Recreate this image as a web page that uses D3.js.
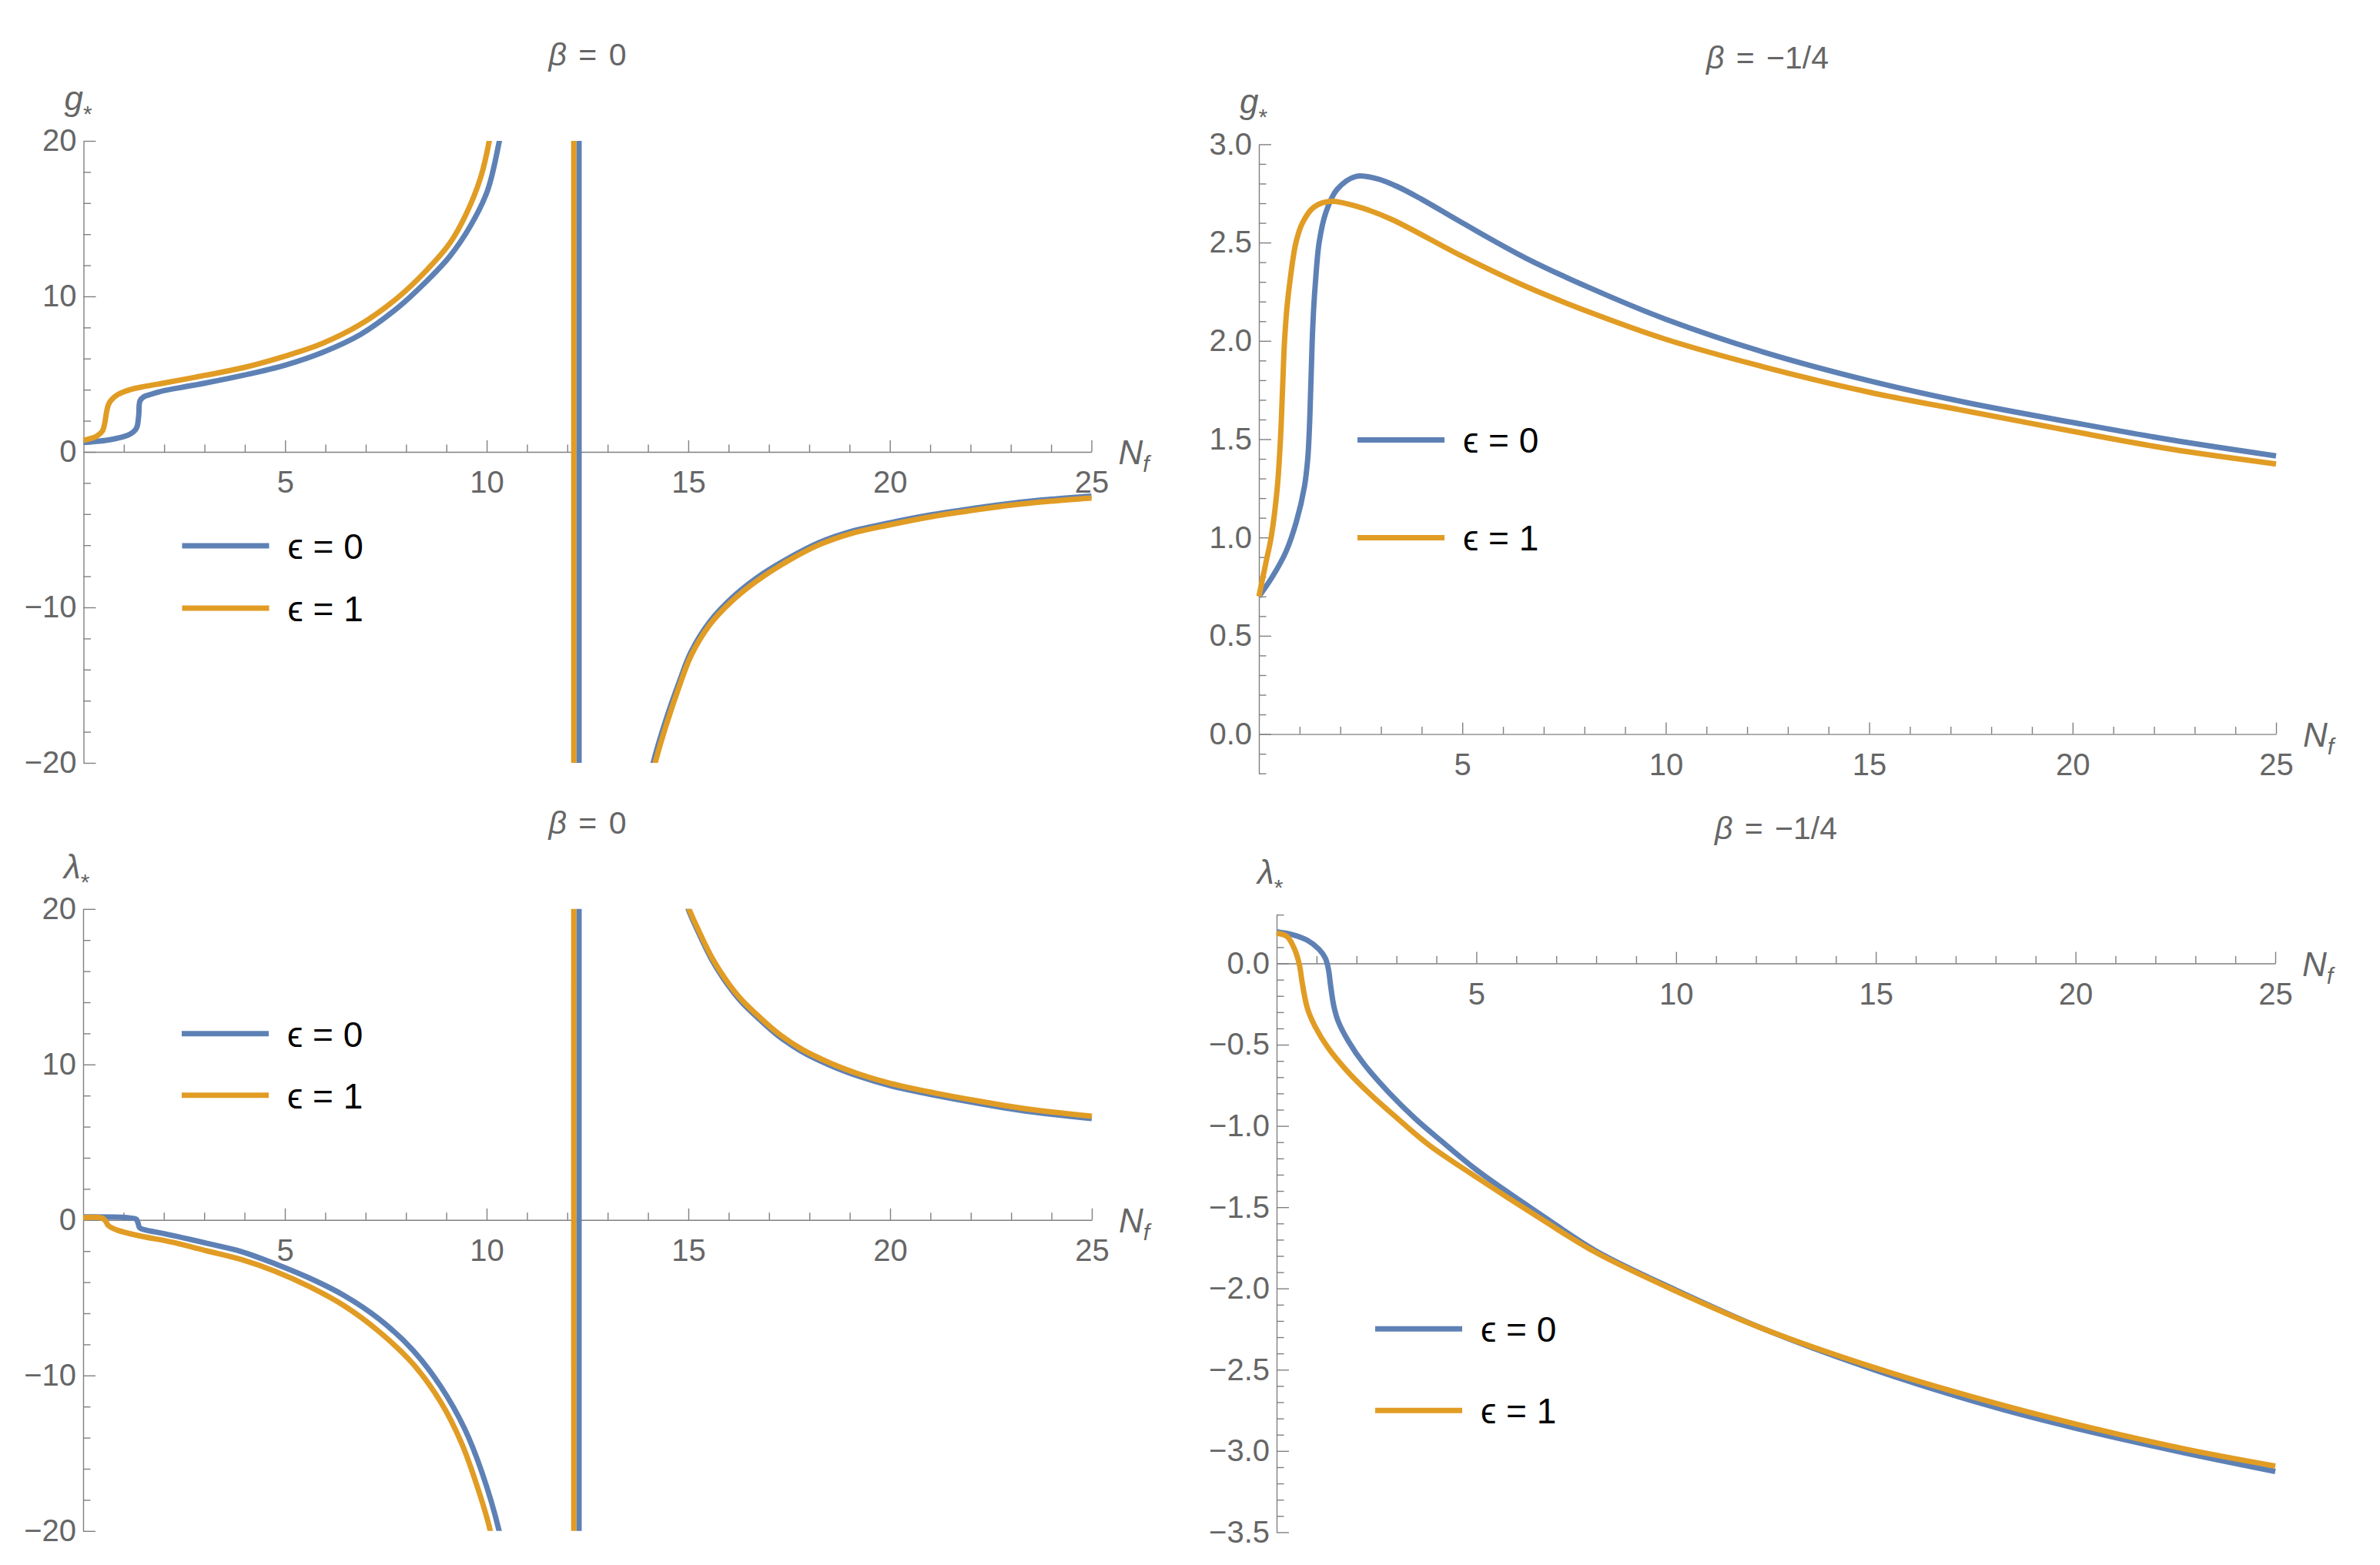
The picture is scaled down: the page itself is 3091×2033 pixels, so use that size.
<!DOCTYPE html>
<html>
<head>
<meta charset="utf-8">
<script src="https://cdnjs.cloudflare.com/ajax/libs/d3/7.8.5/d3.min.js"></script>
<style>
	html, body { margin: 0; padding: 0; background: #fff; }
	svg { display: block; }
</style>
</head>
<body>
<div id="chart"></div>
<script>

// ----------------------------------
// DATA
// ----------------------------------

const nfMajorTicks = [5, 10, 15, 20, 25];
const gTicksBeta0 = [-20, -10, 0, 10, 20];
const lamTicksBeta0 = [-20, -10, 0, 10, 20];
const gTicksBetaQ = [0, 0.5, 1, 1.5, 2, 2.5, 3];
const lamTicksBetaQ = [0.0, -0.5, -1, -1.5, -2, -2.5, -3, -3.5];
const betaLabels = ['0', '\u22121/4'];
const epsLabels = ['\u03f5 = 0', '\u03f5 = 1'];

// null marks a break in the curve
const gBeta0Eps0 = [[0,0.6],[0.35,0.68],[0.73,0.82],[1.0,0.98],[1.16,1.15],[1.28,1.4],[1.33,1.64],[1.37,2.38],[1.4,3.28],[1.5,3.55],[1.67,3.7],[2.0,3.94],[2.5,4.18],[3.03,4.43],[3.97,4.93],[5,5.58],[5.93,6.4],[6.87,7.55],[7.8,9.28],[8.48,10.9],[9.08,12.56],[9.59,14.5],[10.02,16.8],[10.31,19.95],[10.38,21],
	null,[12.29,21],[12.29,-21],
	null,[14.05,-21],[14.12,-20.1],[14.45,-17.2],[14.76,-14.9],[15.07,-12.85],[15.54,-10.9],[16.08,-9.4],[16.7,-8.1],[17.48,-6.85],[18.26,-5.82],[19.04,-5.12],[20,-4.56],[21,-4.06],[22,-3.66],[23,-3.31],[24,-3.05],[25,-2.85]];

const gBeta0Eps1 = [[0,0.74],[0.31,0.99],[0.42,1.2],[0.48,1.4],[0.53,1.9],[0.56,2.4],[0.6,2.9],[0.65,3.2],[0.75,3.5],[0.86,3.7],[1.16,4.0],[1.5,4.2],[2.0,4.43],[3.03,4.93],[3.97,5.42],[5,6.16],[5.93,6.98],[6.87,8.2],[7.8,9.93],[8.48,11.6],[9.08,13.4],[9.5,15.35],[9.85,17.65],[10.06,19.95],[10.12,21],
	null,[12.16,21],[12.16,-21],
	null,[14.1,-21],[14.17,-20.1],[14.45,-17.6],[14.76,-15.2],[15.07,-13.1],[15.54,-11.1],[16.08,-9.6],[16.7,-8.3],[17.48,-7.0],[18.26,-5.96],[19.04,-5.25],[20,-4.69],[21,-4.18],[22,-3.78],[23,-3.43],[24,-3.17],[25,-2.97]];

const gBetaQEps0 = [[0,0.70],[0.33,0.8],[0.67,0.93],[0.92,1.08],[1.12,1.26],[1.2,1.4],[1.24,1.55],[1.28,1.8],[1.31,2.0],[1.35,2.18],[1.39,2.3],[1.48,2.5],[1.64,2.65],[1.92,2.77],[2.39,2.837],[2.9,2.825],[3.4,2.785],[4.0,2.72],[5,2.6],[6.57,2.42],[8.24,2.26],[10,2.11],[12.4,1.943],[15,1.797],[17.4,1.686],[20,1.585],[22.4,1.497],[25,1.415]];

const gBetaQEps1 = [[0,0.70],[0.06,0.76],[0.18,0.88],[0.3,1.0],[0.45,1.25],[0.53,1.5],[0.58,1.75],[0.63,2.0],[0.69,2.17],[0.76,2.3],[0.91,2.5],[1.07,2.6],[1.35,2.68],[1.76,2.71],[2.41,2.684],[3.24,2.62],[5,2.43],[6.57,2.276],[8.24,2.137],[10,2.008],[12.4,1.868],[15,1.739],[17.4,1.643],[20,1.54],[22.4,1.45],[25,1.374]];

const lamBeta0Eps0 = [[0,0.2],[0.94,0.18],[1.2,0.12],[1.32,0.04],[1.36,-0.2],[1.4,-0.5],[1.55,-0.65],[1.79,-0.77],[2.21,-0.99],[3.07,-1.5],[3.92,-2.03],[4.77,-2.83],[5.62,-3.75],[6.47,-4.86],[7.33,-6.36],[8.18,-8.39],[8.86,-10.7],[9.45,-13.4],[9.88,-16.2],[10.31,-20.0],[10.38,-21],
	null,[12.29,21],[12.29,-21],
	null,[14.9,21],[14.99,20.05],[15.24,18.55],[15.6,16.65],[15.97,15.15],[16.34,13.95],[16.7,13.05],[17.2,11.9],[17.8,10.85],[18.53,9.93],[19.26,9.21],[19.99,8.65],[21.09,8.03],[22.19,7.5],[23.28,7.03],[25,6.52]];

const lamBeta0Eps1 = [[0,0.15],[0.47,0.12],[0.55,-0.05],[0.62,-0.35],[0.75,-0.55],[0.85,-0.66],[1.36,-1.0],[2.21,-1.43],[3.07,-1.99],[3.92,-2.54],[4.77,-3.31],[5.62,-4.3],[6.47,-5.52],[7.33,-7.17],[8.18,-9.27],[8.86,-11.7],[9.37,-14.3],[9.8,-17.4],[10.09,-20.0],[10.15,-21],
	null,[12.16,21],[12.16,-21],
	null,[14.93,21],[14.99,20.2],[15.24,18.7],[15.6,16.8],[15.97,15.3],[16.34,14.1],[16.7,13.2],[17.2,12.06],[17.8,11.0],[18.53,10.08],[19.26,9.36],[19.99,8.8],[21.09,8.18],[22.19,7.65],[23.28,7.18],[25,6.67]];

const lamBetaQEps0 = [[0,0.194],[0.39,0.177],[0.77,0.142],[1.06,0.087],[1.22,0.032],[1.3,-0.04],[1.35,-0.134],[1.43,-0.26],[1.54,-0.355],[1.8,-0.48],[2.19,-0.62],[2.83,-0.8],[3.47,-0.955],[4.11,-1.09],[5,-1.27],[6.67,-1.555],[8,-1.77],[10,-2.01],[12.2,-2.25],[15,-2.504],[18,-2.733],[20,-2.86],[22.7,-3.01],[25,-3.126]];

const lamBetaQEps1 = [[0,0.186],[0.26,0.166],[0.45,0.087],[0.57,-0.008],[0.64,-0.118],[0.77,-0.276],[0.96,-0.387],[1.29,-0.52],[1.74,-0.655],[2.31,-0.797],[2.96,-0.94],[3.79,-1.113],[5,-1.315],[6.67,-1.58],[8,-1.78],[10,-2.017],[12.2,-2.25],[15,-2.49],[18,-2.707],[20,-2.834],[22.7,-2.986],[25,-3.093]];


// ----------------------------------
// SETUP
// ----------------------------------

const width = 3091,
	height = 2033,
	colors = ['#5e81b5', '#e19c24'],
	axisColor = '#808080',
	labelColor = '#666',
	fontFamily = '"Liberation Sans", Arial, sans-serif';

const svg = d3.select('#chart')
	.append('svg')
	.attr('width', width)
	.attr('height', height)
	.style('font-family', fontFamily);

const panels = [
	{ beta: betaLabels[0], yLabel: 'g', series: [gBeta0Eps0, gBeta0Eps1], yDomain: [-20, 20], yMajor: gTicksBeta0, yMinorStep: 2, fmt: d3.format('d'),
		box: { left: 108.5, right: 1417.5, top: 183, bottom: 991 }, legend: { dy: 526, gap: 81 } },
	{ beta: betaLabels[1], yLabel: 'g', series: [gBetaQEps0, gBetaQEps1], yDomain: [-0.2, 3.0], yMajor: gTicksBetaQ, yMinorStep: 0.1, fmt: d3.format('.1f'),
		box: { left: 1635, right: 2956, top: 187.4, bottom: 1004.7 }, legend: { dy: 384, gap: 127 } },
	{ beta: betaLabels[0], yLabel: '\u03bb', series: [lamBeta0Eps0, lamBeta0Eps1], yDomain: [-20, 20], yMajor: lamTicksBeta0, yMinorStep: 2, fmt: d3.format('d'),
		box: { left: 108, right: 1418, top: 1180.8, bottom: 1988.8 }, legend: { dy: 162, gap: 80 } },
	{ beta: betaLabels[1], yLabel: '\u03bb', series: [lamBetaQEps0, lamBetaQEps1], yDomain: [-3.5, 0.3], yMajor: lamTicksBetaQ, yMinorStep: 0.1, fmt: d3.format('.1f'),
		box: { left: 1658, right: 2955, top: 1188.2, bottom: 1990.4 }, legend: { dy: 538, gap: 106 } }
];

panels.forEach((p, i) => drawPanel(p, i));

function minorTicks(lo, hi, step, majors){
	const out = [];
	for (let k = Math.ceil(lo / step - 1e-6); k <= Math.floor(hi / step + 1e-6); k++){
		const v = +(k * step).toFixed(6);
		if (!majors.some(m => Math.abs(m - v) < 1e-6)) out.push(v);
	}
	return out;
}

function drawPanel(p, idx){
	const b = p.box;

	const x = d3.scaleLinear().domain([0, 25]).range([b.left, b.right]);
	const y = d3.scaleLinear().domain(p.yDomain).range([b.bottom, b.top]);

	const g = svg.append('g').attr('class', 'panel panel-' + idx);

	// ----------------------------------
	// AXES
	// ----------------------------------

	const yAxis = g.append('g')
		.attr('transform', `translate(${x(0)},0)`)
		.call(d3.axisLeft(y).tickValues(p.yMajor).tickSize(-16).tickSizeOuter(0).tickPadding(9).tickFormat(p.fmt));

	g.append('g')
		.attr('transform', `translate(${x(0)},0)`)
		.call(d3.axisLeft(y).tickValues(minorTicks(p.yDomain[0], p.yDomain[1], p.yMinorStep, p.yMajor)).tickSize(-9.5).tickFormat(''))
		.select('.domain').remove();

	const xAxis = g.append('g')
		.attr('transform', `translate(0,${y(0)})`)
		.call(d3.axisBottom(x).tickValues(nfMajorTicks).tickSize(-15).tickSizeOuter(0).tickPadding(25));

	g.append('g')
		.attr('transform', `translate(0,${y(0)})`)
		.call(d3.axisBottom(x).tickValues(minorTicks(0, 25, 1, nfMajorTicks.concat([0]))).tickSize(-9.5).tickFormat(''))
		.select('.domain').remove();

	g.selectAll('.domain, .tick line')
		.attr('stroke', axisColor)
		.attr('stroke-width', 1.4);

	[yAxis, xAxis].forEach(a => a.selectAll('.tick text')
		.attr('fill', labelColor)
		.style('font-family', fontFamily)
		.style('font-size', '40px'));

	// ----------------------------------
	// CURVES
	// ----------------------------------

	const clipId = 'clip' + idx;
	svg.append('defs').append('clipPath').attr('id', clipId)
		.append('rect')
		.attr('x', b.left - 40).attr('y', b.top)
		.attr('width', b.right - b.left + 80).attr('height', b.bottom - b.top);

	const line = d3.line()
		.defined(d => d !== null)
		.x(d => x(d[0]))
		.y(d => y(d[1]))
		.curve(d3.curveCatmullRom.alpha(0.5));

	const curves = g.append('g').attr('clip-path', `url(#${clipId})`);
	p.series.forEach((s, k) => {
		curves.append('path')
			.datum(s)
			.attr('d', line)
			.attr('fill', 'none')
			.attr('stroke', colors[k])
			.attr('stroke-width', 7)
			.attr('stroke-linejoin', 'round');
	});

	// ----------------------------------
	// LABELS
	// ----------------------------------

	const title = g.append('text')
		.attr('x', (b.left + b.right) / 2)
		.attr('y', b.top - 98)
		.attr('text-anchor', 'middle')
		.attr('fill', labelColor)
		.style('font-size', '41px')
		.style('word-spacing', '4px');
	title.append('tspan').style('font-style', 'italic').text('\u03b2');
	title.append('tspan').text(' = ' + p.beta);

	const yl = g.append('text')
		.attr('x', b.left - 25)
		.attr('y', b.top - 40)
		.attr('fill', labelColor)
		.style('font-size', '44px');
	yl.append('tspan').style('font-style', 'italic').text(p.yLabel);
	yl.append('tspan').attr('dy', 15).style('font-size', '30px').text('*');

	const xl = g.append('text')
		.attr('x', b.right + 35)
		.attr('y', y(0) + 16)
		.attr('fill', labelColor)
		.style('font-size', '44px');
	xl.append('tspan').style('font-style', 'italic').text('N');
	xl.append('tspan').attr('dy', 10).style('font-size', '30px').style('font-style', 'italic').text('f');

	// ----------------------------------
	// LEGEND
	// ----------------------------------

	const lx = b.left + 128;
	epsLabels.forEach((lab, k) => {
		const ly = b.top + p.legend.dy + k * p.legend.gap;
		g.append('line')
			.attr('x1', lx).attr('x2', lx + 113)
			.attr('y1', ly).attr('y2', ly)
			.attr('stroke', colors[k])
			.attr('stroke-width', 7);
		g.append('text')
			.attr('x', lx + 137)
			.attr('y', ly + 17)
			.attr('fill', '#000')
			.style('font-size', '46px')
			.text(lab);
	});
}
</script>
</body>
</html>
